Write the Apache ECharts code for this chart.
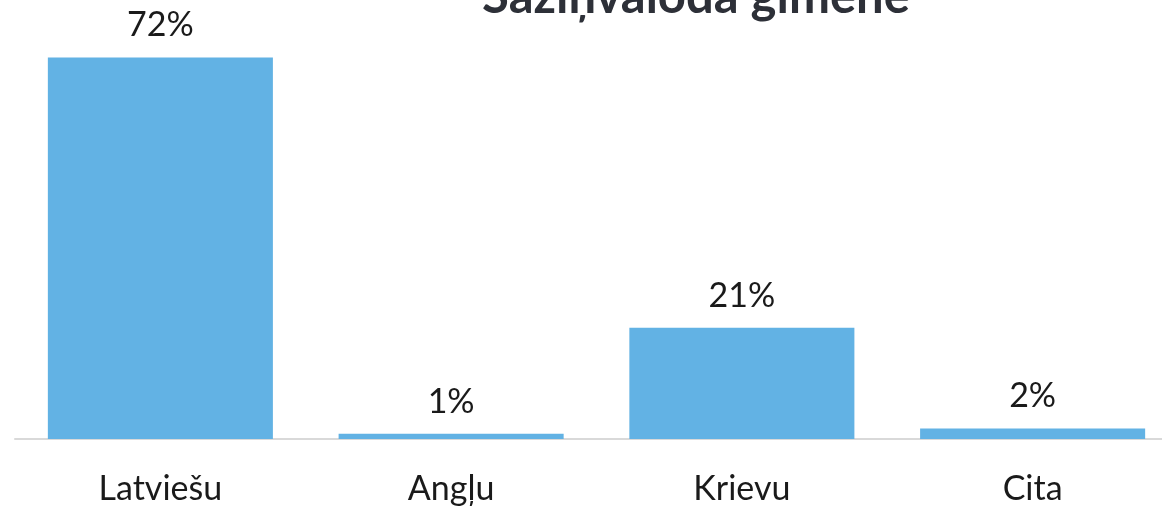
<!DOCTYPE html>
<html>
<head>
<meta charset="utf-8">
<script src="https://cdn.jsdelivr.net/npm/echarts@6/dist/echarts.min.js"></script>
<style>
  html, body { margin: 0; padding: 0; background: #fff; }
  #chart { width: 1162px; height: 510px; }
</style>
</head>
<body>
<div id="chart"></div>
<script>
  // Saziņvaloda ģimenē
  var categories = ['Latviešu', 'Angļu', 'Krievu', 'Cita'];
  var shares = [72, 1, 21, 2];

  var chart = echarts.init(document.getElementById('chart'));
  chart.setOption({
    animation: false,
    textStyle: { fontFamily: 'Lato' },
    title: {
      text: 'Saziņvaloda ģimenē',
      left: 691,
      textAlign: 'center',
      top: -32,
      textStyle: {
        fontSize: 49,
        fontWeight: 'bold',
        color: '#2d3038',
        fontFamily: 'Lato'
      }
    },
    grid: {
      left: 15,
      right: -16,
      top: 15,
      bottom: 71,
      containLabel: false,
      outerBoundsMode: 'none'
    },
    xAxis: {
      type: 'category',
      data: categories,
      axisLine: { lineStyle: { color: '#d9d9d9', width: 2 } },
      axisTick: { show: false },
      axisLabel: {
        fontSize: 34,
        color: '#1a1a1a',
        margin: 33
      }
    },
    yAxis: {
      type: 'value',
      min: 0,
      max: 80,
      show: false,
      splitLine: { show: false }
    },
    series: [{
      type: 'bar',
      data: shares,
      barCategoryGap: '22.6%',
      itemStyle: { color: '#62b2e4' },
      label: {
        show: true,
        position: 'top',
        distance: 15,
        formatter: '{c}%',
        fontSize: 34,
        color: '#1a1a1a'
      }
    }]
  });
</script>
</body>
</html>
